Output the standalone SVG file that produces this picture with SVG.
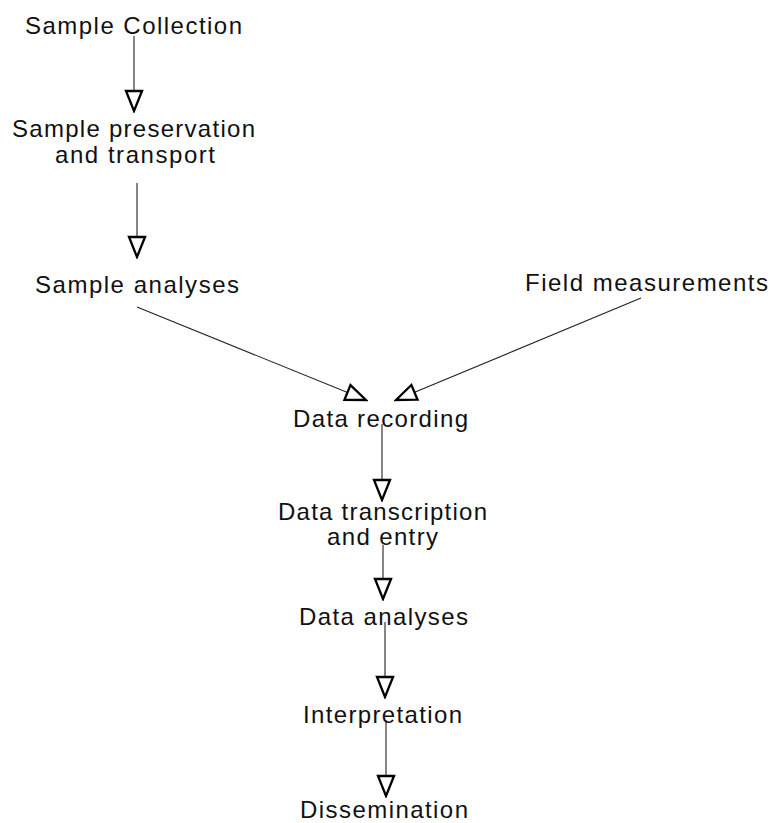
<svg xmlns="http://www.w3.org/2000/svg" width="772" height="823" viewBox="0 0 772 823">
  <style>
    .lbl { font-family: "Liberation Sans", Arial, Helvetica, sans-serif; font-size: 24px; fill: #111; text-anchor: middle; }
    .edge { stroke: #222; stroke-width: 1.1; fill: none; marker-end: url(#head); }
  </style>
  <defs>
    <marker id="head" markerUnits="userSpaceOnUse" markerWidth="24" markerHeight="20" viewBox="-2 -2 24 20" refX="20" refY="8" orient="auto">
      <path d="M0,0 L20,8 L0,16 Z" fill="#fff" stroke="#000" stroke-width="2.3" stroke-linejoin="miter"/>
    </marker>
  </defs>
  <rect width="772" height="823" fill="#fff"/>

  <g id="connectors">
    <line class="edge" x1="134" y1="36" x2="134" y2="111"/>
    <line class="edge" x1="137" y1="183" x2="137" y2="257"/>
    <line class="edge" x1="137" y1="307" x2="366" y2="400"/>
    <line class="edge" x1="641" y1="298" x2="396" y2="400"/>
    <line class="edge" x1="382" y1="424" x2="382" y2="500"/>
    <line class="edge" x1="383" y1="545" x2="383" y2="599"/>
    <line class="edge" x1="385" y1="622" x2="385" y2="697"/>
    <line class="edge" x1="386" y1="720" x2="386" y2="796"/>
  </g>

  <g id="sample-collection">
    <text class="lbl" x="133.5" y="34" textLength="217" lengthAdjust="spacing">Sample Collection</text>
  </g>
  <g id="sample-preservation">
    <text class="lbl" x="133.5" y="137" textLength="243" lengthAdjust="spacing">Sample preservation</text>
    <text class="lbl" x="135" y="163" textLength="160" lengthAdjust="spacing">and transport</text>
  </g>
  <g id="sample-analyses">
    <text class="lbl" x="137" y="293" textLength="204" lengthAdjust="spacing">Sample analyses</text>
  </g>
  <g id="field-measurements">
    <text class="lbl" x="646.5" y="291" textLength="243" lengthAdjust="spacing">Field measurements</text>
  </g>
  <g id="data-recording">
    <text class="lbl" x="380.5" y="427" textLength="175" lengthAdjust="spacing">Data recording</text>
  </g>
  <g id="data-transcription">
    <text class="lbl" x="382.5" y="520" textLength="209" lengthAdjust="spacing">Data transcription</text>
    <text class="lbl" x="382.5" y="545" textLength="111" lengthAdjust="spacing">and entry</text>
  </g>
  <g id="data-analyses">
    <text class="lbl" x="383.5" y="625" textLength="169" lengthAdjust="spacing">Data analyses</text>
  </g>
  <g id="interpretation">
    <text class="lbl" x="382.5" y="723" textLength="159" lengthAdjust="spacing">Interpretation</text>
  </g>
  <g id="dissemination">
    <text class="lbl" x="384" y="818" textLength="168" lengthAdjust="spacing">Dissemination</text>
  </g>
</svg>
